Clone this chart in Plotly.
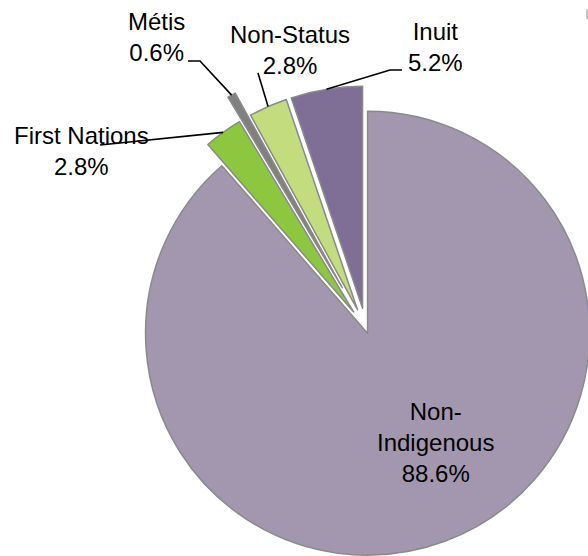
import math
import plotly.graph_objects as go

# ---- data ----
categories = ["Non-Indigenous", "First Nations", "Métis", "Non-Status", "Inuit"]
shares = [88.6, 2.8, 0.6, 2.8, 5.2]
label_text = ["Non-<br>Indigenous<br>88.6%", "First Nations<br>2.8%", "Métis<br>0.6%",
              "Non-Status<br>2.8%", "Inuit<br>5.2%"]

# ---- styles / layout ----
colors = ["#A397B0", "#8DC63F", "#808080", "#C3DC7D", "#7F6F97"]
pulls = [0.02, 0.095, 0.215, 0.095, 0.095]

W, H = 640, 600          # figure larger than window; page clipped to 588x556
CX, CY, R = 366, 329, 222
maxpull = max(pulls)
half = R * (1 + maxpull)
dom_x = [(CX - half) / W, (CX + half) / W]
dom_y = [1 - (CY + half) / H, 1 - (CY - half) / H]

def px(x, y):
    return x / W, 1 - y / H

fig = go.Figure(go.Pie(
    labels=categories, values=shares, sort=False, direction="clockwise", rotation=0,
    pull=pulls, textinfo="none", hoverinfo="label+percent",
    marker=dict(colors=colors, line=dict(color="#8a8a8a", width=1.5)),
    domain=dict(x=dom_x, y=dom_y), showlegend=False,
))

# label centres (pixels) and leader-line elbows (pixels, from text side)
label_pos = [(435, 442), (81, 151), (156, 37), (290, 50), (435, 47)]
leader_pts = [None, [(100, 145)], [(188, 61), (200, 61)], [(258, 73)], [(402, 70), (390, 70)]]

total = sum(shares)
cum = 0
shapes = []
annotations = []
for i, v in enumerate(shares):
    mid = (cum + v / 2) / total * 2 * math.pi
    cum += v
    dx, dy = math.sin(mid), -math.cos(mid)
    dist = R * (1 + pulls[i])
    ax_, ay_ = CX + dist * dx, CY + dist * dy
    lx, ly = label_pos[i]
    annotations.append(dict(x=lx / W, y=1 - ly / H, xref="paper", yref="paper",
                            text=label_text[i], showarrow=False, xanchor="center", yanchor="middle",
                            font=dict(family="Liberation Sans, Arial, sans-serif", size=24, color="#000")))
    if leader_pts[i]:
        pts = leader_pts[i] + [(ax_, ay_)]
        path = "M " + " L ".join(f"{px(x, y)[0]:.5f},{px(x, y)[1]:.5f}" for x, y in pts)
        shapes.append(dict(type="path", path=path, xref="paper", yref="paper",
                           line=dict(color="#000", width=1.6)))

fig.update_layout(width=W, height=H, margin=dict(l=0, r=0, t=0, b=0),
                  paper_bgcolor="white", plot_bgcolor="white",
                  shapes=shapes, annotations=annotations)

fig.write_html("out.html", post_script="document.body.style.margin='0px';document.body.style.overflow='hidden';document.documentElement.style.overflow='hidden';")
